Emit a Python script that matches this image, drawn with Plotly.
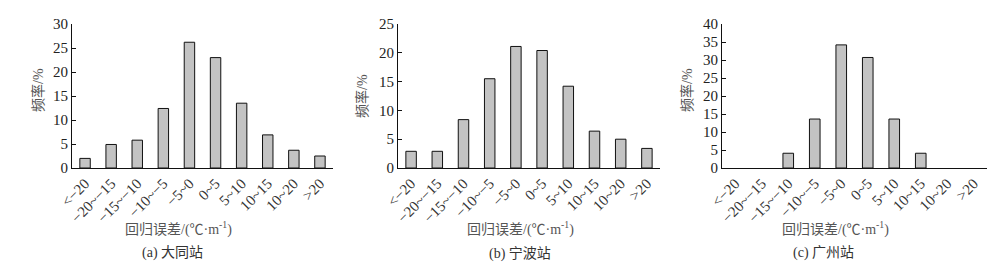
import plotly.graph_objects as go

categories = ["<−20", "−20~−15", "−15~−10", "−10~−5", "−5~0", "0~5", "5~10", "10~15", "10~20", ">20"]
datong = [2.0, 4.9, 5.8, 12.4, 26.2, 23.0, 13.5, 6.9, 3.7, 2.5]
ningbo = [2.9, 2.9, 8.4, 15.5, 21.1, 20.4, 14.2, 6.4, 5.0, 3.4]
guangzhou = [0, 0, 4.1, 13.6, 34.2, 30.7, 13.6, 4.1, 0, 0]
captions = ["(a) 大同站", "(b) 宁波站", "(c) 广州站"]
y_max = [30, 25, 40]
x_title = "回归误差/(℃·m<sup>-1</sup>)"
y_title = "频率/%"

W, H = 1004, 268
FONT = "Liberation Serif, Noto Sans CJK SC, serif"
# pixel layout of each panel: (x_left, x_right)
panels = [(72, 333), (398, 660), (722, 987)]
y_top, y_bot = 24, 168

fig = go.Figure()
series = [datong, ningbo, guangzhou]
for i, (vals, (xl, xr)) in enumerate(zip(series, panels)):
    sfx = "" if i == 0 else str(i + 1)
    fig.add_trace(go.Bar(
        x=categories, y=vals, width=0.4,
        marker=dict(color="#c3c3c3",
                    line=dict(color="#111", width=[1 if v > 0 else 0 for v in vals])),
        xaxis="x" + sfx, yaxis="y" + sfx, showlegend=False,
    ))
    fig.layout["xaxis" + sfx] = dict(
        domain=[xl / W, xr / W], anchor="y" + sfx, automargin=False,
        showline=True, linecolor="#111", linewidth=1, ticks="",
        tickangle=-45, tickfont=dict(family=FONT, size=15, color="#333"),
        showgrid=False, zeroline=False, fixedrange=True,
    )
    fig.layout["yaxis" + sfx] = dict(
        domain=[(H - y_bot) / H, (H - y_top) / H], anchor="x" + sfx, automargin=False,
        range=[0, y_max[i]], dtick=5, showline=True, linecolor="#111", linewidth=1,
        ticks="inside", ticklen=4, tickcolor="#111",
        tickfont=dict(family=FONT, size=15, color="#222"),
        showgrid=False, zeroline=False, fixedrange=True,
    )

xt_centers = [178, 520, 835]
cap_centers = [172, 520, 823]
yt_pos = [(38, 90), (362, 96), (687, 90)]
for i in range(3):
    fig.add_annotation(x=xt_centers[i] / W, y=(H - 228) / H, xref="paper", yref="paper",
                       text=x_title, showarrow=False, xanchor="center", yanchor="middle",
                       font=dict(family=FONT, size=14, color="#555"))
    fig.add_annotation(x=cap_centers[i] / W, y=(H - 253) / H, xref="paper", yref="paper",
                       text=captions[i], showarrow=False, xanchor="center", yanchor="middle",
                       font=dict(family=FONT, size=14, color="#333"))
    fig.add_annotation(x=yt_pos[i][0] / W, y=(H - yt_pos[i][1]) / H, xref="paper", yref="paper",
                       text=y_title, showarrow=False, xanchor="center", yanchor="middle", textangle=-90,
                       font=dict(family=FONT, size=14, color="#555"))

fig.update_layout(
    width=W, height=H, margin=dict(l=0, r=0, t=0, b=0),
    paper_bgcolor="white", plot_bgcolor="white", bargap=0.6,
)
fig.write_html("out.html", config={"displayModeBar": False},
               post_script="document.body.style.margin='0';document.body.style.overflow='hidden';")
